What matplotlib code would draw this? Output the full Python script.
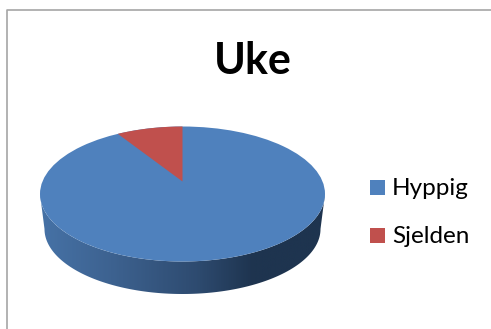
import numpy as np
import matplotlib
matplotlib.use('Agg')
import matplotlib.pyplot as plt
from matplotlib.colors import LinearSegmentedColormap
from matplotlib.patches import Ellipse, PathPatch, Polygon, Rectangle
from matplotlib.path import Path

labels = ['Hyppig', 'Sjelden']
values = [92.5, 7.5]
colors = ['#4f81bd', '#c0504d']

plt.rcParams['font.family'] = ['Lato', 'DejaVu Sans']

W, H = 491, 329
fig = plt.figure(figsize=(W / 100, H / 100), dpi=100)
ax = fig.add_axes([0, 0, 1, 1])
ax.set_xlim(0, W)
ax.set_ylim(H, 0)
ax.axis('off')

# chart frame
ax.plot([7.5, 7.5, 491], [329, 9.5, 9.5], color='#a6a6a6', lw=1.2)

# pie geometry, the lower rim is a bit narrower for the perspective
cx, cy = 182.5, 194
rx, ry = 142.5, 67.5
rx_low, ry_low, cy_low = 138, 65, 229
apex_y = 181.5

# side wall with a left-to-right shading
t = np.linspace(np.pi, 0, 200)
upper = np.column_stack([cx + rx * np.cos(t), cy + ry * np.sin(t)])
lower = np.column_stack([cx + rx_low * np.cos(t), cy_low + ry_low * np.sin(t)])
side = np.vstack([upper, lower[::-1], upper[0]])
shade = LinearSegmentedColormap.from_list(
    'side', [(0, '#4672a6'), (0.25, '#3d6290'), (0.55, '#2e4b70'), (0.75, '#1e344f'), (1, '#1e344f')])
img = ax.imshow(np.linspace(0, 1, 300).reshape(1, -1), cmap=shade, aspect='auto',
                extent=[cx - rx, cx + rx, cy_low + ry_low, cy - ry], zorder=1)
patch = PathPatch(Path(side, closed=True), fc='none', ec='none')
ax.add_patch(patch)
img.set_clip_path(patch)
ax.set_xlim(0, W)
ax.set_ylim(H, 0)

# top face
ax.add_patch(Ellipse((cx, cy), 2 * rx, 2 * ry, fc=colors[0], ec='none', zorder=2))

# small slice ends at twelve o'clock
frac = values[1] / sum(values)
a = np.linspace(0, 2 * np.pi * frac, 40)
arc = np.column_stack([cx - rx * np.sin(a), cy - ry * np.cos(a)])
ax.add_patch(Polygon(np.vstack([[cx, apex_y], arc]), closed=True, fc=colors[1], ec='none', zorder=3))

ax.text(252.5, 61, 'Uke', fontsize=31, fontweight='bold', ha='center', va='center', color='black')

# legend
for y, lab, col in zip([187.5, 235.5], labels, colors):
    ax.add_patch(Rectangle((370, y - 7.5), 15, 15, fc=col, ec='none'))
    ax.text(392, y + 1, lab, fontsize=17.5, ha='left', va='center', color='black')

fig.savefig('out.png', dpi=100, facecolor='white')
